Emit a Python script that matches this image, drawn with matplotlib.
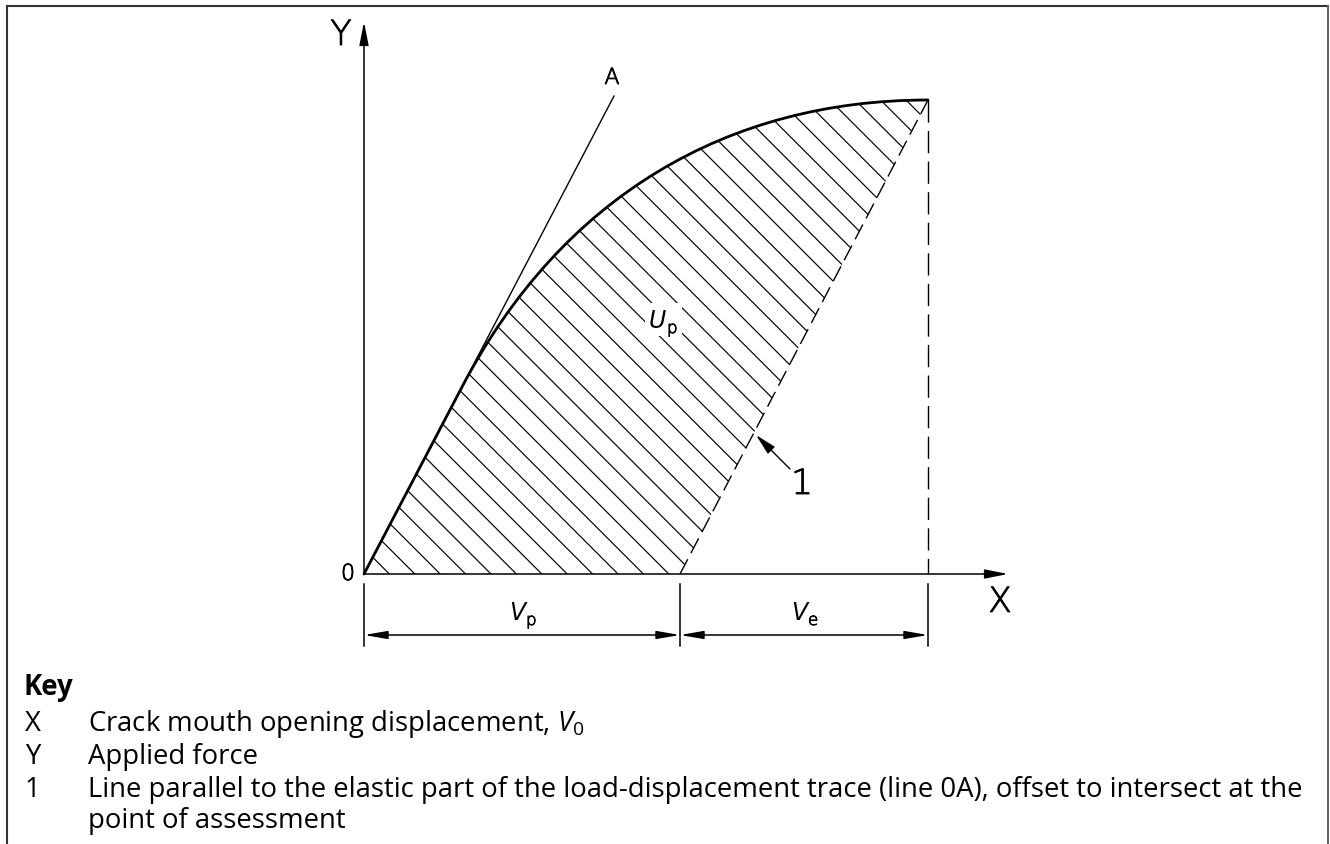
import numpy as np
import matplotlib
matplotlib.use('Agg')
import matplotlib.pyplot as plt
import matplotlib.patheffects as pe
from matplotlib.path import Path
from matplotlib.patches import PathPatch, FancyArrowPatch, Rectangle
from matplotlib.lines import Line2D

plt.rcParams['lines.scale_dashes'] = False
plt.rcParams['mathtext.fontset'] = 'custom'
plt.rcParams['mathtext.rm'] = 'Open Sans'
plt.rcParams['mathtext.it'] = 'Open Sans:italic'

############################################### values (x = displacement, y = force)
W, H = 1330, 845
ORIGIN_PX = (364, 575)

elastic_x = [0, 98]            # straight start of the trace
elastic_y = [0, 187]
bend_ctrl_x = [198, 364, 564]  # cubic part up to the point of assessment
bend_ctrl_y = [378, 474, 474]
line_0a_x = [0, 250]
line_0a_y = [0, 478]
v_p = 316
v_e = 248
f_max = 474
x_axis_len = 644
y_axis_len = 552
hatch_step = 25.4

key_symbols = ['X', 'Y', '1', '']
key_texts = ['Crack mouth opening displacement, $\\mathit{V}_{0}$',
             'Applied force',
             'Line parallel to the elastic part of the load-displacement trace (line 0A), offset to intersect at the',
             'point of assessment']
key_rows = [724, 757, 790, 821]

v_total = v_p + v_e

fig = plt.figure(figsize=(W / 100, H / 100), dpi=100)
ax = fig.add_axes([0, 0, 1, 1])
ax.set_xlim(-ORIGIN_PX[0], W - ORIGIN_PX[0])
ax.set_ylim(ORIGIN_PX[1] - H, ORIGIN_PX[1])
ax.axis('off')

# thin drawing-office lettering: light face with a slight outline
lab = dict(family='DejaVu Sans', color='black', fontweight='light',
           path_effects=[pe.withStroke(linewidth=0.6, foreground='black')])
ital = dict(family='DejaVu Sans', color='black', style='italic')

############################################### hatched area U_p
verts = [(0, 0), (elastic_x[1], elastic_y[1]),
         (bend_ctrl_x[0], bend_ctrl_y[0]), (bend_ctrl_x[1], bend_ctrl_y[1]), (bend_ctrl_x[2], bend_ctrl_y[2]),
         (v_p, 0), (0, 0)]
codes = [Path.MOVETO, Path.LINETO, Path.CURVE4, Path.CURVE4, Path.CURVE4, Path.LINETO, Path.CLOSEPOLY]
area = PathPatch(Path(verts, codes), facecolor='none', edgecolor='none')
ax.add_patch(area)
for c in np.arange(0, v_total + f_max + hatch_step, hatch_step):
    ln, = ax.plot([c - 800, c + 100], [800, -100], color='black', lw=0.85)
    ln.set_clip_path(area)

# trace
trace = PathPatch(Path(verts[:5], codes[:5]), facecolor='none', edgecolor='black', lw=2.0,
                  capstyle='round', joinstyle='round')
ax.add_patch(trace)

# line 0A
ax.plot(line_0a_x, line_0a_y, color='black', lw=1.0)
ax.text(line_0a_x[1] - 2, line_0a_y[1] + 18, 'A', fontsize=16, ha='center', va='center', **lab)

# line 1 and vertical from the assessment point
ax.plot([v_p, v_total], [0, f_max], color='black', lw=1.0, dashes=(12, 5))
ax.plot([v_total, v_total], [f_max, 0], color='black', lw=1.0, dashes=(16, 6))

############################################### axes
arr = dict(arrowstyle='-|>,head_length=1.4,head_width=0.28', mutation_scale=10,
           color='black', lw=1.1, shrinkA=0, shrinkB=0)
ax.add_patch(FancyArrowPatch((0, 0), (x_axis_len, 0), **arr))
ax.add_patch(FancyArrowPatch((0, 0), (0, y_axis_len), **arr))
ax.text(-23, 539, 'Y', fontsize=25, ha='center', va='center', **lab)
ax.text(x_axis_len - 8, -28, 'X', fontsize=25, ha='center', va='center', **lab)
ax.text(-16, 0, '0', fontsize=16, ha='center', va='center', **lab)

# U_p label on a white patch so the hatching stops around it
ax.add_patch(Rectangle((281, 238), 37, 33, facecolor='white', edgecolor='none', zorder=3))
ax.text(302, 254, 'U', fontsize=17, ha='right', va='center', zorder=4, **ital)
ax.text(303, 246, 'p', fontsize=12, ha='left', va='center', zorder=4, **lab)

# leader to line 1
ax.add_patch(FancyArrowPatch((426, 105), (392, 139),
                             arrowstyle='-|>,head_length=1.3,head_width=0.3', mutation_scale=10,
                             color='black', lw=1.0, shrinkA=0, shrinkB=0))
ax.text(438, 90, '1', fontsize=25, ha='center', va='center', **lab)

############################################### dimensions V_p, V_e
for x in [0, v_p, v_total]:
    ax.plot([x, x], [-10, -72], color='black', lw=1.1)
dim = dict(arrowstyle='<|-|>,head_length=1.4,head_width=0.24', mutation_scale=10,
           color='black', lw=1.1, shrinkA=0, shrinkB=0)
ax.add_patch(FancyArrowPatch((0, -61), (v_p, -61), **dim))
ax.add_patch(FancyArrowPatch((v_p, -61), (v_total, -61), **dim))
ax.text(v_p / 2 + 3, -38, 'V', fontsize=17, ha='right', va='center', **ital)
ax.text(v_p / 2 + 4, -46, 'p', fontsize=12, ha='left', va='center', **lab)
ax.text(v_p + v_e / 2 + 3, -38, 'V', fontsize=17, ha='right', va='center', **ital)
ax.text(v_p + v_e / 2 + 4, -46, 'e', fontsize=12, ha='left', va='center', **lab)

############################################### key
key_font = dict(family='Open Sans', fontsize=19.8, va='center')
fig.text(24 / W, 1 - 688 / H, 'Key', fontweight='bold', **key_font)
for sym, txt, y in zip(key_symbols, key_texts, key_rows):
    fig.text(25 / W, 1 - y / H, sym, **key_font)
    fig.text(88 / W, 1 - y / H, txt, **key_font)

# frame
fig.add_artist(Line2D([7 / W, 7 / W], [0, 1 - 7 / H], color='#333333', lw=1.5))
fig.add_artist(Line2D([7 / W, 1328 / W], [1 - 7 / H, 1 - 7 / H], color='#333333', lw=1.5))
fig.add_artist(Line2D([1328 / W, 1328 / W], [0, 1 - 7 / H], color='#666666', lw=1.5))

fig.savefig('out.png', dpi=100)
